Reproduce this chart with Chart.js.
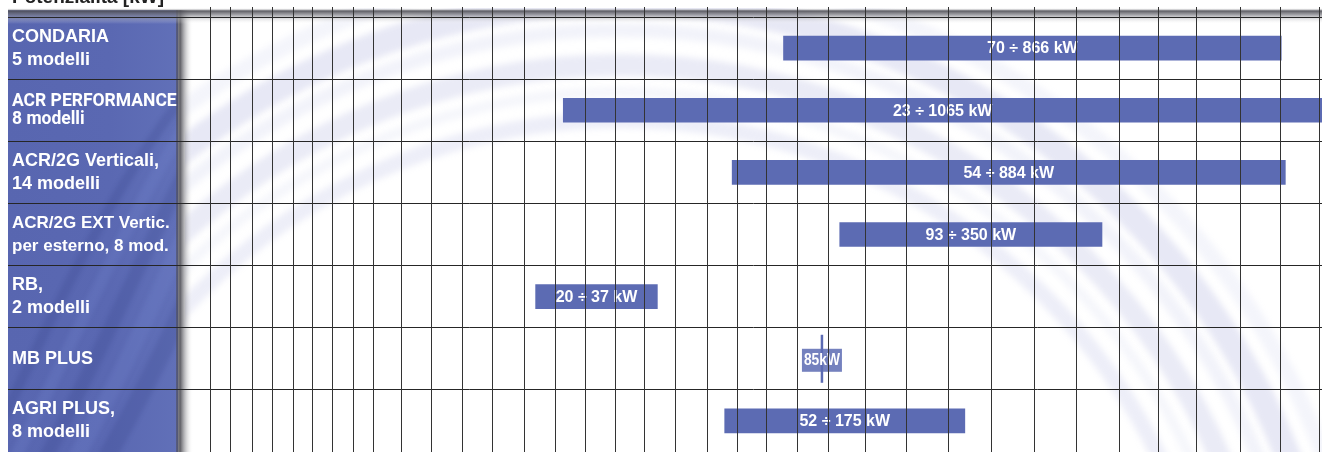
<!DOCTYPE html>
<html><head><meta charset="utf-8">
<script src="https://cdn.jsdelivr.net/npm/chart.js@4.4.1/dist/chart.umd.min.js"></script>
<style>html,body{margin:0;padding:0;background:#fff;overflow:hidden}canvas{display:block}</style>
</head><body>
<canvas id="c" width="1322" height="452" style="width:1322px;height:452px"></canvas>
<script>
// ---- data ----
const chartTitle = 'Potenzialità [kW]';
const categories = [
  ['CONDARIA', '5 modelli'],
  ['ACR PERFORMANCE', '8 modelli'],
  ['ACR/2G Verticali,', '14 modelli'],
  ['ACR/2G EXT Vertic.', 'per esterno, 8 mod.'],
  ['RB,', '2 modelli'],
  'MB PLUS',
  ['AGRI PLUS,', '8 modelli']
];
const rangeMinKW = [70, 23, 54, 93, 20, null, 52];
const rangeMaxKW = [866, 1065, 884, 350, 37, null, 175];
const singleKW   = [null, null, null, null, null, 85, null];
// decorative column rulings of the background grid (grid units)
const gridColumns = [2.5, 4.5, 6.6, 8.6, 10.6, 12.5, 14.5, 16.5, 18.5, 21.2, 24.2, 27.2, 30.2, 33.3,
  36.3, 39.3, 42.2, 45.1, 48.1, 51.2, 54.2, 57.0, 60.1, 63.1, 66.7, 70.8, 74.9, 79.1, 83.3, 87.4,
  91.6, 95.5, 99.2, 103.5, 107.4, 111.3];

const BAR = '#5c6bb3';
const LS = '"Liberation Sans", Arial, Helvetica, sans-serif';

const rangeData = categories.map((c, i) => rangeMinKW[i] == null ? null : [rangeMinKW[i], rangeMaxKW[i]]);
const singleData = [];
singleKW.forEach((v, i) => { if (v != null) singleData.push({ x: v, y: categories[i] }); });

const decor = {
  id: 'decor',
  beforeDraw(chart) {
    const ctx = chart.ctx, ca = chart.chartArea, W = chart.width, H = chart.height;
    ctx.save();
    ctx.fillStyle = '#fff';
    ctx.fillRect(0, 0, W, H);
    // soft swirl rings in plot background
    ctx.beginPath(); ctx.rect(ca.left, 8, W - ca.left, H); ctx.clip();
    ctx.filter = 'blur(3px)';
    const rings = [
      [600, 16, 'rgba(165,168,220,0.20)'],
      [628, 10, 'rgba(185,188,228,0.14)'],
      [655, 22, 'rgba(160,162,215,0.22)'],
      [690, 14, 'rgba(175,178,225,0.16)'],
      [718, 26, 'rgba(155,158,212,0.24)'],
      [752, 16, 'rgba(180,182,228,0.14)']
    ];
    rings.forEach(([r, lw, col]) => {
      ctx.beginPath();
      ctx.arc(620, 720, r, Math.PI, 2 * Math.PI);
      ctx.strokeStyle = col; ctx.lineWidth = lw; ctx.stroke();
    });
    ctx.filter = 'none';
    ctx.restore();

    // left blue panel
    const px0 = 8, px1 = ca.left - 7, py0 = 10;
    ctx.save();
    const g = ctx.createLinearGradient(px0, 0, px1, 0);
    g.addColorStop(0, '#5866b0'); g.addColorStop(0.6, '#5a68b2'); g.addColorStop(1, '#6170b8');
    ctx.fillStyle = g;
    ctx.fillRect(px0, py0, px1 - px0, H - py0);
    ctx.beginPath(); ctx.rect(px0, py0, px1 - px0, H); ctx.clip();
    ctx.filter = 'blur(2px)';
    for (let k = 0; k < 5; k++) {
      ctx.beginPath();
      ctx.moveTo(px0 - 30 + k * 30, H + 20);
      ctx.bezierCurveTo(60 + k * 35, 300, 120 + k * 30, 160, 230 + k * 20, 40 - k * 10);
      ctx.strokeStyle = k % 2 ? 'rgba(120,135,210,0.22)' : 'rgba(40,50,120,0.16)';
      ctx.lineWidth = 10 + k * 2;
      ctx.stroke();
    }
    ctx.filter = 'none';
    ctx.restore();
    // panel right shadow
    const sg = ctx.createLinearGradient(px1 - 2, 0, px1 + 15, 0);
    sg.addColorStop(0, 'rgba(80,80,95,0.6)');
    sg.addColorStop(0.25, 'rgba(70,70,78,0.85)');
    sg.addColorStop(1, 'rgba(255,255,255,0)');
    ctx.fillStyle = sg;
    ctx.fillRect(px1 - 2, py0, 17, H - py0);
    // top dark band
    const tg = ctx.createLinearGradient(0, 8, 0, 24);
    tg.addColorStop(0, 'rgba(255,255,255,0)');
    tg.addColorStop(0.18, 'rgba(75,75,82,0.9)');
    tg.addColorStop(0.4, 'rgba(115,115,122,0.7)');
    tg.addColorStop(1, 'rgba(255,255,255,0)');
    ctx.fillStyle = tg;
    ctx.fillRect(px0, 8, W - px0, 16);
    ctx.restore();
  }
};

const barText = {
  id: 'barText',
  afterDatasetsDraw(chart) {
    const ctx = chart.ctx, ca = chart.chartArea;
    ctx.save();
    ctx.beginPath(); ctx.rect(ca.left, ca.top, ca.right - ca.left, ca.bottom - ca.top); ctx.clip();
    ctx.textAlign = 'center'; ctx.textBaseline = 'middle';
    ctx.fillStyle = '#fff';
    ctx.font = 'bold 16px ' + LS;
    chart.getDatasetMeta(0).data.forEach((el, i) => {
      if (rangeMinKW[i] == null) return;
      const a = Math.max(ca.left, Math.min(el.x, el.base));
      const b = Math.min(ca.right, Math.max(el.x, el.base));
      ctx.fillText(rangeMinKW[i] + ' \u00f7 ' + rangeMaxKW[i] + ' kW', (a + b) / 2, el.y + 1);
    });
    chart.getDatasetMeta(1).data.forEach((el, j) => {
      const txt = singleData[j].x + 'kW';
      ctx.font = 'bold 17px ' + LS;
      const w = Math.min(ctx.measureText(txt).width, 36);
      ctx.fillStyle = 'rgba(92,107,179,0.85)';
      ctx.fillRect(el.x - w / 2 - 2, el.y - 10, w + 4, 23);
      ctx.fillStyle = '#fff';
      ctx.fillText(txt, el.x, el.y + 2, 36);
    });
    ctx.restore();
  }
};

new Chart(document.getElementById('c'), {
  type: 'bar',
  data: {
    labels: categories,
    datasets: [
      {
        type: 'bar',
        indexAxis: 'y',
        data: rangeData,
        backgroundColor: BAR,
        borderWidth: 0,
        barThickness: 24,
        xAxisID: 'x', yAxisID: 'y'
      },
      {
        type: 'scatter',
        indexAxis: 'x',
        data: singleData,
        pointStyle: 'line',
        rotation: 90,
        pointRadius: 24,
        borderWidth: 2.5,
        borderColor: BAR,
        backgroundColor: BAR,
        xAxisID: 'x', yAxisID: 'y'
      }
    ]
  },
  options: {
    indexAxis: 'y',
    responsive: false,
    animation: false,
    events: [],
    layout: { autoPadding: false, padding: { left: 12, right: 0, top: 0, bottom: 0 } },
    plugins: {
      legend: { display: false },
      tooltip: { enabled: false },
      title: {
        display: true, text: chartTitle, align: 'start', color: '#222',
        font: { family: LS, size: 19, weight: 'bold', lineHeight: 1.2 },
        padding: { top: -14, bottom: 0 }
      }
    },
    scales: {
      x: {
        type: 'logarithmic', display: false, min: 3.4, max: 1064
      },
      xg: {
        type: 'linear', axis: 'x', position: 'top', min: 0, max: 111.5,
        afterBuildTicks: (s) => { s.ticks = gridColumns.map(v => ({ value: v })); },
        afterFit: (s) => { s.height = 8.2; s.paddingLeft = 0; s.paddingRight = 0; },
        ticks: { display: false },
        grid: { color: '#333', lineWidth: 1, drawTicks: true, tickLength: 10, z: 1 },
        border: { display: false }
      },
      y: {
        type: 'category', position: 'left', offset: true,
        afterFit: (s) => { s.width = 173; s.paddingTop = 0; s.paddingBottom = 0; },
        grid: { offset: true, color: '#262626', lineWidth: 1, drawTicks: true, tickLength: 177 },
        border: { display: false },
        ticks: {
          color: '#fff', crossAlign: 'far', autoSkip: false,
          font: (c) => c.index === 1
            ? { family: 'Roboto, ' + LS, size: 17.5, weight: 'bold', lineHeight: '18px' }
            : c.index === 3
              ? { family: LS, size: 17, weight: 'bold', lineHeight: '23px' }
              : { family: LS, size: 18, weight: 'bold', lineHeight: '23px' }
        }
      }
    }
  },
  plugins: [decor, barText]
});
</script>
</body></html>
